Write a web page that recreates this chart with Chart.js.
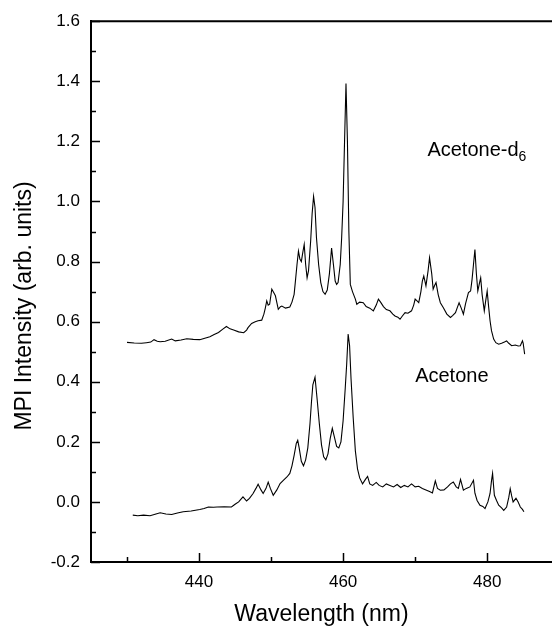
<!DOCTYPE html>
<html>
  <head>
    <title>MPI spectra</title>
    <script src="https://cdn.jsdelivr.net/npm/chart.js"></script>
    <style>
      body {
        margin: 0;
        background: #fff;
      }
      #wrap {
        width: 552px;
        height: 626px;
      }
    </style>
  </head>
  <body>
    <div id="wrap"><canvas id="spectra"></canvas></div>

    <script>
      // Acetone-d6 (upper trace)
      const d6Wl = [430.0, 431.0, 432.0, 432.7, 433.3, 433.75, 434.2, 434.6, 435.3, 436.2, 436.7, 437.5, 438.3, 439.2, 440.1, 440.8, 441.5, 442.1, 442.7, 443.3, 443.8, 444.3, 444.8, 445.5, 446.2, 446.6, 446.8, 447.3, 447.8, 448.2, 448.7, 449.0, 449.2, 449.4, 449.6, 449.8, 450.1, 450.4, 450.6, 451.0, 451.3, 451.5, 452.0, 452.6, 452.9, 453.2, 453.4, 453.6, 453.8, 454.0, 454.2, 454.4, 454.6, 454.8, 455.0, 455.2, 455.5, 455.7, 455.9, 456.1, 456.3, 456.6, 456.9, 457.2, 457.5, 457.8, 458.1, 458.4, 458.7, 458.9, 459.1, 459.3, 459.6, 459.8, 460.0, 460.2, 460.4, 460.6, 460.8, 461.0, 461.3, 461.7, 461.9, 462.3, 462.8, 463.2, 463.7, 464.2, 464.6, 464.9, 465.2, 465.6, 466.0, 466.5, 466.9, 467.2, 467.6, 467.9, 468.2, 468.6, 469.0, 469.5, 469.8, 470.0, 470.3, 470.5, 470.8, 471.0, 471.2, 471.5, 471.8, 472.0, 472.3, 472.5, 472.7, 472.9, 473.2, 473.5, 473.9, 474.4, 474.9, 475.2, 475.6, 475.9, 476.1, 476.4, 476.7, 477.0, 477.4, 477.7, 477.9, 478.1, 478.3, 478.5, 478.7, 478.9, 479.1, 479.3, 479.6, 479.8, 480.0, 480.2, 480.4, 480.6, 480.9, 481.2, 481.6, 482.0, 482.4, 482.7, 483.0, 483.4, 483.9, 484.3, 484.6, 484.9, 485.0, 485.2];
      const d6Int = [0.531, 0.529, 0.528, 0.530, 0.532, 0.540, 0.535, 0.533, 0.535, 0.542, 0.536, 0.539, 0.543, 0.541, 0.540, 0.545, 0.550, 0.557, 0.564, 0.575, 0.584, 0.576, 0.572, 0.566, 0.563, 0.572, 0.580, 0.594, 0.600, 0.603, 0.605, 0.625, 0.645, 0.669, 0.655, 0.658, 0.708, 0.695, 0.686, 0.641, 0.650, 0.652, 0.645, 0.649, 0.665, 0.691, 0.740, 0.790, 0.835, 0.808, 0.800, 0.830, 0.857, 0.790, 0.746, 0.770, 0.870, 0.960, 1.017, 0.980, 0.880, 0.790, 0.730, 0.700, 0.691, 0.705, 0.760, 0.845, 0.780, 0.735, 0.724, 0.730, 0.790, 0.880, 1.000, 1.200, 1.393, 1.200, 0.900, 0.724, 0.700, 0.675, 0.658, 0.665, 0.663, 0.650, 0.645, 0.636, 0.655, 0.675, 0.665, 0.650, 0.640, 0.636, 0.625, 0.619, 0.615, 0.608, 0.618, 0.630, 0.628, 0.636, 0.655, 0.675, 0.668, 0.663, 0.700, 0.735, 0.752, 0.719, 0.770, 0.813, 0.760, 0.708, 0.720, 0.730, 0.690, 0.663, 0.647, 0.625, 0.614, 0.620, 0.630, 0.650, 0.663, 0.645, 0.625, 0.660, 0.697, 0.702, 0.740, 0.790, 0.840, 0.760, 0.702, 0.725, 0.746, 0.690, 0.636, 0.670, 0.702, 0.650, 0.603, 0.570, 0.542, 0.530, 0.525, 0.528, 0.532, 0.536, 0.528, 0.520, 0.522, 0.519, 0.520, 0.536, 0.528, 0.492];

      // Acetone (lower trace)
      const acWl = [430.8, 431.5, 432.3, 433.2, 433.9, 434.6, 435.4, 436.2, 437.0, 437.8, 438.9, 440.1, 440.7, 441.3, 442.0, 442.5, 443.5, 444.5, 445.0, 445.5, 446.1, 446.6, 447.0, 447.5, 447.9, 448.2, 448.6, 448.9, 449.3, 449.6, 449.9, 450.3, 450.8, 451.25, 451.7, 452.2, 452.6, 452.9, 453.2, 453.5, 453.7, 453.9, 454.2, 454.5, 454.8, 455.1, 455.4, 455.6, 455.8, 456.1, 456.4, 456.7, 457.0, 457.3, 457.6, 457.9, 458.2, 458.5, 458.8, 459.1, 459.4, 459.7, 460.0, 460.3, 460.5, 460.7, 460.9, 461.1, 461.4, 461.7, 462.0, 462.3, 462.7, 463.1, 463.4, 463.7, 464.1, 464.6, 465.0, 465.5, 466.0, 466.5, 467.0, 467.5, 468.0, 468.5, 469.0, 469.5, 470.0, 470.5, 471.0, 471.5, 472.0, 472.4, 472.8, 473.1, 473.5, 474.0, 474.5, 474.9, 475.3, 475.7, 476.0, 476.3, 476.7, 477.1, 477.6, 478.1, 478.3, 478.6, 479.0, 479.4, 479.7, 480.1, 480.4, 480.6, 480.75, 480.9, 481.0, 481.3, 481.6, 482.0, 482.3, 482.7, 483.0, 483.2, 483.4, 483.6, 484.0, 484.3, 484.6, 484.9, 485.1];
      const acInt = [-0.044, -0.046, -0.044, -0.046, -0.041, -0.036, -0.040, -0.042, -0.037, -0.033, -0.030, -0.025, -0.022, -0.017, -0.018, -0.017, -0.016, -0.017, -0.008, 0.000, 0.017, 0.003, 0.012, 0.028, 0.045, 0.059, 0.040, 0.028, 0.045, 0.066, 0.045, 0.022, 0.040, 0.061, 0.072, 0.083, 0.095, 0.120, 0.155, 0.195, 0.205, 0.180, 0.135, 0.120, 0.140, 0.180, 0.260, 0.330, 0.390, 0.415, 0.340, 0.260, 0.190, 0.150, 0.140, 0.160, 0.210, 0.245, 0.215, 0.185, 0.180, 0.200, 0.270, 0.380, 0.460, 0.559, 0.520, 0.410, 0.280, 0.170, 0.110, 0.080, 0.060, 0.075, 0.085, 0.060, 0.055, 0.065, 0.055, 0.050, 0.060, 0.055, 0.050, 0.058, 0.048, 0.055, 0.050, 0.060, 0.050, 0.052, 0.045, 0.040, 0.035, 0.030, 0.070, 0.045, 0.039, 0.040, 0.050, 0.060, 0.066, 0.050, 0.045, 0.075, 0.039, 0.045, 0.050, 0.072, 0.029, 0.005, -0.011, -0.015, -0.022, 0.000, 0.028, 0.070, 0.095, 0.050, 0.022, 0.005, -0.011, -0.020, -0.028, -0.017, 0.015, 0.044, 0.020, 0.000, 0.012, 0.000, -0.017, -0.025, -0.033];

      const xTicks = [430, 440, 450, 460, 470, 480];
      const yTicks = [-0.2, -0.1, 0.0, 0.1, 0.2, 0.3, 0.4, 0.5, 0.6, 0.7, 0.8, 0.9, 1.0, 1.1, 1.2, 1.3, 1.4, 1.5, 1.6];

      const FONT = "'Liberation Sans', Arial, sans-serif";

      const toPoints = (xs, ys) => xs.map((x, i) => ({ x: x, y: ys[i] }));
      const xLabel = v => (v % 20 === 0 ? String(v) : "");
      const yLabel = v => (Math.round(v * 10) % 2 === 0 ? v.toFixed(1) : "");

      // inward tick marks, top frame line, y title and trace labels
      const decor = {
        id: "decor",
        afterDraw(chart) {
          const ctx = chart.ctx;
          const area = chart.chartArea;
          const xs = chart.scales.x, ys = chart.scales.y;
          ctx.save();
          ctx.strokeStyle = "#000";
          ctx.lineWidth = 1.5;
          ctx.beginPath();
          xs.ticks.forEach(t => {
            const px = Math.round(xs.getPixelForValue(t.value)) + 0.5;
            const len = xLabel(t.value) ? 9 : 5;
            ctx.moveTo(px, area.bottom);
            ctx.lineTo(px, area.bottom - len);
          });
          ys.ticks.forEach(t => {
            const py = Math.round(ys.getPixelForValue(t.value)) + 0.5;
            const len = yLabel(t.value) ? 9 : 5;
            ctx.moveTo(area.left, py);
            ctx.lineTo(area.left + len, py);
          });
          ctx.stroke();

          ctx.lineWidth = 2;
          ctx.beginPath();
          ctx.moveTo(area.left - 1, area.top);
          ctx.lineTo(area.right, area.top);
          ctx.stroke();

          ctx.fillStyle = "#000";
          ctx.font = "23px " + FONT;
          ctx.textAlign = "center";
          ctx.textBaseline = "middle";
          ctx.translate(25, 306);
          ctx.rotate(-Math.PI / 2);
          ctx.fillText("MPI Intensity (arb. units)", 0, 0);
          ctx.restore();

          ctx.save();
          ctx.fillStyle = "#000";
          ctx.textAlign = "left";
          ctx.textBaseline = "alphabetic";
          ctx.font = "20px " + FONT;
          let px = xs.getPixelForValue(471.7), py = ys.getPixelForValue(1.15);
          ctx.fillText("Acetone-d", px, py);
          const w = ctx.measureText("Acetone-d").width;
          ctx.font = "14px " + FONT;
          ctx.fillText("6", px + w, py + 5);
          ctx.font = "20px " + FONT;
          ctx.fillText("Acetone", xs.getPixelForValue(470), ys.getPixelForValue(0.40));
          ctx.restore();
        }
      };

      new Chart(document.getElementById("spectra"), {
        type: "line",
        data: {
          datasets: [
            { label: "Acetone-d6", data: toPoints(d6Wl, d6Int), borderColor: "#000", borderWidth: 1.1, pointRadius: 0, tension: 0 },
            { label: "Acetone", data: toPoints(acWl, acInt), borderColor: "#000", borderWidth: 1.1, pointRadius: 0, tension: 0 }
          ]
        },
        options: {
          responsive: true,
          maintainAspectRatio: false,
          animation: false,
          layout: { padding: { top: 20, right: 0, left: 0, bottom: 0 } },
          plugins: { legend: { display: false }, tooltip: { enabled: false } },
          scales: {
            x: {
              type: "linear",
              min: 425,
              max: 489,
              afterBuildTicks: s => { s.ticks = xTicks.map(v => ({ value: v })); },
              afterFit: s => { s.height = 64; },
              grid: { display: false, drawTicks: false },
              border: { display: true, color: "#000", width: 2 },
              ticks: { callback: xLabel, autoSkip: false, maxRotation: 0, padding: 10, color: "#000", font: { family: FONT, size: 17 } },
              title: { display: true, text: "Wavelength (nm)", color: "#000", padding: { top: 0, bottom: 0 }, font: { family: FONT, size: 23, lineHeight: 1 } }
            },
            y: {
              type: "linear",
              min: -0.2,
              max: 1.6,
              afterBuildTicks: s => { s.ticks = yTicks.map(v => ({ value: v })); },
              afterFit: s => { s.width = 91; },
              grid: { display: false, drawTicks: false },
              border: { display: true, color: "#000", width: 2 },
              ticks: { callback: yLabel, autoSkip: false, padding: 11, color: "#000", font: { family: FONT, size: 17 } }
            }
          }
        },
        plugins: [decor]
      });
    </script>
  </body>
</html>
